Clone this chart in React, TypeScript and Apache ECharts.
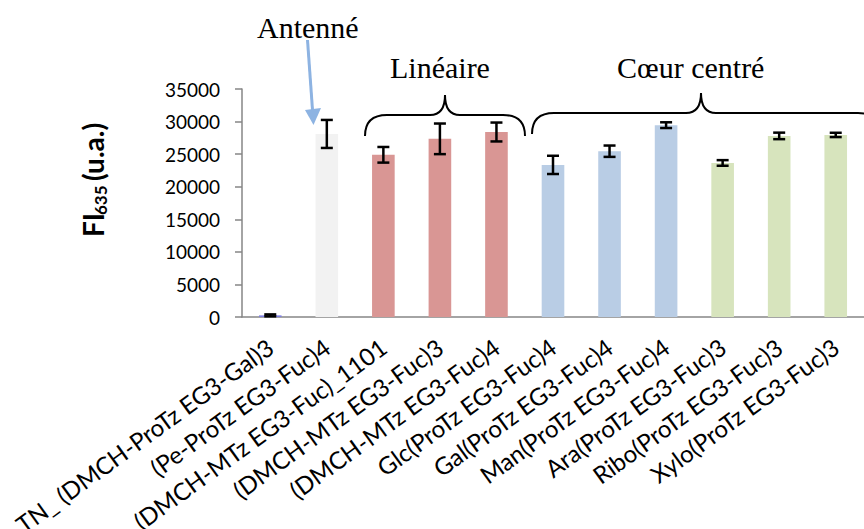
import React, { useEffect, useRef } from "react";
import * as echarts from "echarts";

const categories = [
  "TN_ (DMCH-ProTz EG3-Gal)3",
  "(Pe-ProTz EG3-Fuc)4",
  "(DMCH-MTz EG3-Fuc)_1101",
  "(DMCH-MTz EG3-Fuc)3",
  "(DMCH-MTz EG3-Fuc)4",
  "Glc(ProTz EG3-Fuc)4",
  "Gal(ProTz EG3-Fuc)4",
  "Man(ProTz EG3-Fuc)4",
  "Ara(ProTz EG3-Fuc)3",
  "Ribo(ProTz EG3-Fuc)3",
  "Xylo(ProTz EG3-Fuc)3",
];
const values = [250, 28100, 24900, 27350, 28400, 23350, 25450, 29450, 23650, 27800, 27950];
const errors = [150, 2150, 1200, 2350, 1450, 1400, 870, 440, 430, 500, 330];
const barColors = [
  "#8080e0",
  "#f2f2f2",
  "#d99694",
  "#d99694",
  "#d99694",
  "#b9cde5",
  "#b9cde5",
  "#b9cde5",
  "#d7e4bd",
  "#d7e4bd",
  "#d7e4bd",
];
const yTicks = { min: 0, max: 35000, interval: 5000 };
const groupLabels = ["Antenné", "Linéaire", "Cœur centré"];

const brace1 =
  "M365,136 C365,122 372,115 387,115 L430,115 C440,115 445,108 445,95 C445,108 450,115 460,115 L503,115 C518,115 525,122 525,136";
const brace2 =
  "M532,134 C532,120 539,113 554,113 L686,113 C696,113 701,106 701,93 C701,106 706,113 716,113 L858,113 C873,113 880,120 880,134";

let registered = false;
function registerShapes() {
  if (registered) return;
  registered = true;
  echarts.graphic.registerShape("brace1", echarts.graphic.extendPath(brace1, {}));
  echarts.graphic.registerShape("brace2", echarts.graphic.extendPath(brace2, {}));
}

export default function App() {
  const ref = useRef<HTMLDivElement>(null);
  useEffect(() => {
    if (!ref.current) return;
    registerShapes();
    const chart = echarts.init(ref.current, undefined, { renderer: "svg" });
    const font = "Lato";
    const serif = "Liberation Serif";
    chart.setOption({
      animation: false,
      grid: {
        left: 242,
        right: 0,
        top: 89,
        bottom: 212,
        containLabel: false,
        outerBoundsMode: "none",
      },
      xAxis: {
        type: "category",
        data: categories,
        axisLine: { lineStyle: { color: "#868686", width: 1.5 } },
        axisTick: { length: 7, lineStyle: { color: "#868686", width: 1.5 } },
        axisLabel: {
          interval: 0,
          rotate: 36,
          fontFamily: font,
          fontSize: 24,
          color: "#000",
          margin: 27,
        },
      },
      yAxis: {
        type: "value",
        min: yTicks.min,
        max: yTicks.max,
        interval: yTicks.interval,
        axisLine: { show: true, lineStyle: { color: "#868686", width: 1.5 } },
        axisTick: { show: true, length: 7, lineStyle: { color: "#868686", width: 1.5 } },
        splitLine: { show: false },
        axisLabel: {
          fontFamily: font,
          fontSize: 19,
          color: "#000",
          margin: 22,
          formatter: (v: number) => String(v),
        },
      },
      series: [
        {
          type: "bar",
          barWidth: "40%",
          data: values.map((v, i) => ({ value: v, itemStyle: { color: barColors[i] } })),
        },
        {
          type: "custom",
          data: values.map((v, i) => [i, v - errors[i], v + errors[i]]),
          z: 5,
          renderItem: (params: any, api: any) => {
            const lo = api.coord([api.value(0), api.value(1)]);
            const hi = api.coord([api.value(0), api.value(2)]);
            const hw = 6;
            const style = { stroke: "#000", lineWidth: 2.5 };
            return {
              type: "group",
              children: [
                { type: "line", shape: { x1: lo[0], y1: lo[1], x2: hi[0], y2: hi[1] }, style },
                { type: "line", shape: { x1: lo[0] - hw, y1: lo[1], x2: lo[0] + hw, y2: lo[1] }, style },
                { type: "line", shape: { x1: hi[0] - hw, y1: hi[1], x2: hi[0] + hw, y2: hi[1] }, style },
              ],
            };
          },
        },
      ],
      graphic: [
        {
          type: "text",
          x: 257,
          y: 27,
          style: { text: groupLabels[0], font: `30px "${serif}"`, fill: "#000", verticalAlign: "middle" },
        },
        {
          type: "text",
          x: 390,
          y: 67,
          style: { text: groupLabels[1], font: `30px "${serif}"`, fill: "#000", verticalAlign: "middle" },
        },
        {
          type: "text",
          x: 617,
          y: 67,
          style: { text: groupLabels[2], font: `30px "${serif}"`, fill: "#000", verticalAlign: "middle" },
        },
        {
          type: "line",
          shape: { x1: 307.5, y1: 40, x2: 312.5, y2: 110 },
          style: { stroke: "#8db3e2", lineWidth: 3 },
        },
        {
          type: "polygon",
          shape: { points: [[305, 110], [321, 108], [313.5, 125]] },
          style: { fill: "#8db3e2" },
        },
        { type: "brace1", style: { stroke: "#000", fill: "none", lineWidth: 2 } },
        { type: "brace2", style: { stroke: "#000", fill: "none", lineWidth: 2 } },
        {
          type: "group",
          x: 93,
          y: 237,
          rotation: Math.PI / 2,
          children: [
            {
              type: "text",
              x: 0,
              y: 0,
              style: { text: "FI", font: `bold 28px ${font}`, fill: "#000", verticalAlign: "middle" },
            },
            {
              type: "text",
              x: 22,
              y: 7,
              style: { text: "635", font: `bold 17px ${font}`, fill: "#000", verticalAlign: "middle" },
            },
            {
              type: "text",
              x: 56,
              y: 0,
              style: { text: "(u.a.)", font: `bold 28px ${font}`, fill: "#000", verticalAlign: "middle" },
            },
          ],
        },
      ],
    });
    return () => chart.dispose();
  }, []);
  return (
    <div
      ref={ref}
      style={{ position: "absolute", left: 0, top: 0, width: 864, height: 529, background: "#fff" }}
    />
  );
}
